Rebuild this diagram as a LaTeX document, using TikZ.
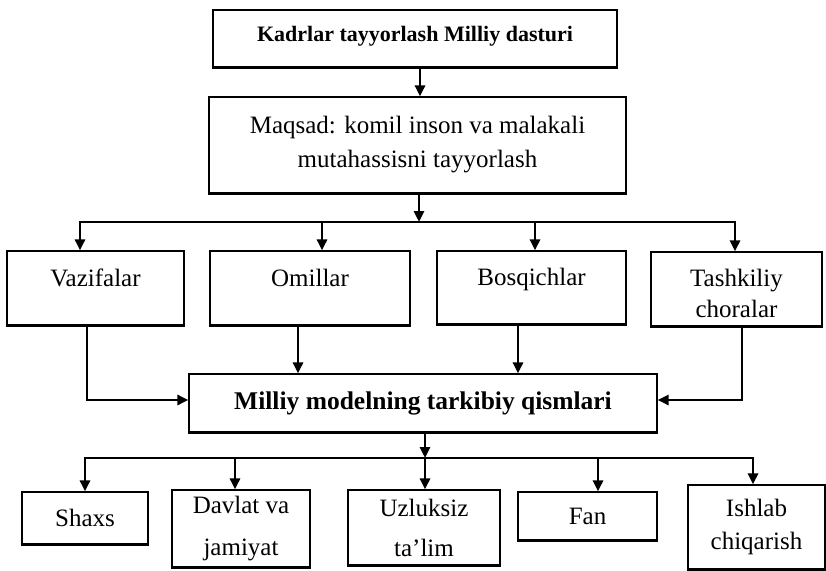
\documentclass[tikz,border=0pt]{standalone}
\usepackage{fontspec}
\setmainfont{Liberation Serif}
\usetikzlibrary{arrows.meta}
\tikzset{
  box/.style={draw, line width=1.2pt, rectangle, inner sep=0pt, align=center,
    font=\fontsize{25}{31}\selectfont},
  conn/.style={line width=2.8pt, -{Triangle[length=11pt,width=10pt]}},
  heavy/.style={line width=2.4pt}
}
\begin{document}
\begin{tikzpicture}[x=1pt,y=-1pt]
\useasboundingbox[fill=white] (0,0) rectangle (826,570);

% top
\node[box, minimum width=404pt, minimum height=57pt, font=\bfseries\fontsize{22}{28}\selectfont]
  (top) at (415,38.5) {\raisebox{9pt}{Kadrlar tayyorlash Milliy dasturi}};
\node[box, minimum width=417pt, minimum height=96pt, font=\fontsize{25}{31}\selectfont]
  (maqsad) at (417.5,145) {Maqsad: komil inson va malakali\\[3pt]mutahassisni tayyorlash};

% second row
\node[box, minimum width=177pt, minimum height=74pt] (vaz) at (95.5,288) {Vazifalar\\[-10pt]\mbox{}};
\node[box, minimum width=200pt, minimum height=74pt] (oml) at (310,288) {Omillar\\[-10pt]\mbox{}};
\node[box, minimum width=189pt, minimum height=73pt] (bos) at (531.5,287.5) {Bosqichlar\\[-10pt]\mbox{}};
\node[box, minimum width=171pt, minimum height=74pt] (tash) at (736.5,289) {\rule{0pt}{26pt}Tashkiliy\\choralar};

% middle
\node[box, minimum width=468pt, minimum height=58pt, font=\bfseries\fontsize{25.5}{31}\selectfont]
  (milliy) at (423,403) {\raisebox{1pt}{Milliy modelning tarkibiy qismlari}};

% bottom row
\node[box, minimum width=126pt, minimum height=52pt] (shaxs) at (85,518) {Shaxs};
\node[box, minimum width=138pt, minimum height=77pt] (davlat) at (241,528.5) {Davlat va\\[11pt]jamiyat};
\node[box, minimum width=152pt, minimum height=75pt] (uzl) at (424,527.5) {Uzluksiz\\[9pt]ta’lim};
\node[box, minimum width=139pt, minimum height=48pt] (fan) at (587.5,516) {Fan};
\node[box, minimum width=137pt, minimum height=84pt] (ishlab) at (756.5,527) {Ishlab\\[2pt]chiqarish};

% heavier lower edges (as in the scan)
\foreach \n in {top,maqsad,vaz,oml,bos,tash,milliy,shaxs,davlat,uzl,fan,ishlab}
  \draw[heavy] (\n.south west) -- (\n.south east);

% coordinates of the buses
\coordinate (j1) at (419,222);
\coordinate (b1a) at (80,222);
\coordinate (b1b) at (322,222);
\coordinate (b1c) at (535,222);
\coordinate (b1d) at (735,222);
\coordinate (j2) at (425,458);
\coordinate (b2a) at (85,458);
\coordinate (b2b) at (235,458);
\coordinate (b2d) at (598,458);
\coordinate (b2e) at (753,458);

% connectors
\draw[conn] ([xshift=5pt]top.south) -- ([xshift=5pt]top.south |- maqsad.north);
\draw[conn] (maqsad.south -| j1) -- (j1);
\draw[conn] (b1d) -- (b1a) -- (b1a |- vaz.north);
\draw[conn] (b1a) -- (b1d) -- (b1d |- tash.north);
\draw[conn] (b1b) -- (b1b |- oml.north);
\draw[conn] (b1c) -- (b1c |- bos.north);

\draw[conn] ([xshift=-8.5pt]vaz.south) |- ([yshift=3pt]milliy.west);
\draw[conn] ([xshift=-12pt]oml.south) -- ([xshift=-12pt]oml.south |- milliy.north);
\draw[conn] ([xshift=-13.5pt]bos.south) -- ([xshift=-13.5pt]bos.south |- milliy.north);
\draw[conn] ([xshift=5.5pt]tash.south) |- ([yshift=3pt]milliy.east);

\draw[conn] (milliy.south -| j2) -- (j2);
\draw[conn] (b2e) -- (b2a) -- (b2a |- shaxs.north);
\draw[conn] (b2a) -- (b2e) -- (b2e |- ishlab.north);
\draw[conn] (b2b) -- (b2b |- davlat.north);
\draw[conn] (j2) -- (j2 |- uzl.north);
\draw[conn] (b2d) -- (b2d |- fan.north);
\end{tikzpicture}
\end{document}
